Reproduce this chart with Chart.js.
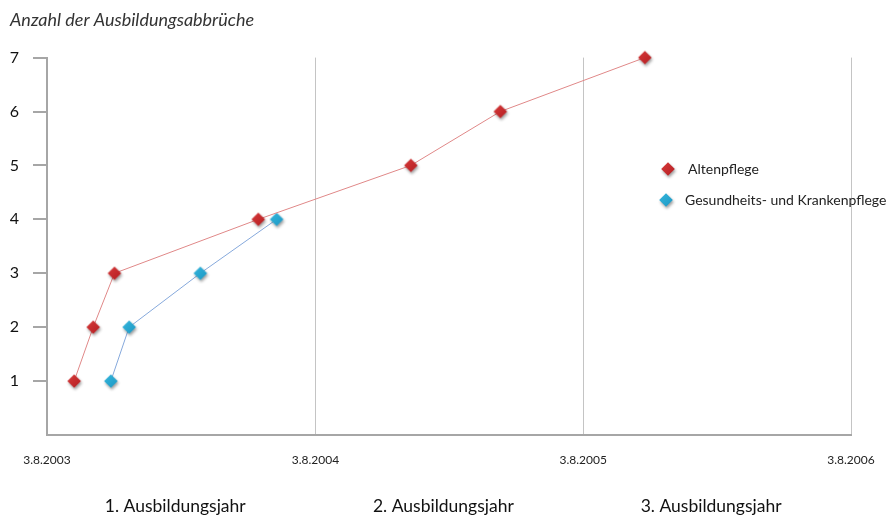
<!DOCTYPE html>
<html lang="de">
<head>
<meta charset="utf-8">
<title>Anzahl der Ausbildungsabbrüche</title>
<script src="https://cdn.jsdelivr.net/npm/chart.js@4/dist/chart.umd.min.js"></script>
<style>
  html, body { margin: 0; padding: 0; background: #ffffff; }
  #wrap { width: 895px; height: 515px; position: relative; }
</style>
</head>
<body>
<div id="wrap"><canvas id="chart"></canvas></div>
<script>
// Ausbildungsabbrüche (kumuliert) nach Datum
const chartTitle = 'Anzahl der Ausbildungsabbrüche';
const seriesNames = ['Altenpflege', 'Gesundheits- und Krankenpflege'];

const altenDates  = ['2003-09-09', '2003-10-05', '2003-11-03', '2004-05-17', '2004-12-11', '2005-04-12', '2005-10-26'];
const altenValues = [1, 2, 3, 4, 5, 6, 7];

const krankenDates  = ['2003-10-29', '2003-11-23', '2004-02-28', '2004-06-11'];
const krankenValues = [1, 2, 3, 4];

const xTickDates = ['2003-08-03', '2004-08-03', '2005-08-03', '2006-08-03'];
const yearLabels = ['1. Ausbildungsjahr', '2. Ausbildungsjahr', '3. Ausbildungsjahr'];
const yTicks = [1, 2, 3, 4, 5, 6, 7];

const FONT = 'Lato, "Open Sans", "DejaVu Sans", sans-serif';

// Datum -> Tagesnummer (UTC)
function dayNum(s) {
  const [y, m, d] = s.split('-').map(Number);
  return Date.UTC(y, m - 1, d) / 86400000;
}
function fmtDay(n) {
  const d = new Date(n * 86400000);
  return d.getUTCDate() + '.' + (d.getUTCMonth() + 1) + '.' + d.getUTCFullYear();
}

const xTickVals = xTickDates.map(dayNum);
const xMin = xTickVals[0];
const xMax = xTickVals[xTickVals.length - 1];
const yearMids = yearLabels.map((_, i) => (xTickVals[i] + xTickVals[i + 1]) / 2);

// Rautenmarker mit weichem Schatten
function diamond(color, dark) {
  const c = document.createElement('canvas');
  const s = 26;
  c.width = s; c.height = s;
  const g = c.getContext('2d');
  const cx = s / 2, cy = s / 2, r = 6.8;
  g.shadowColor = 'rgba(0,0,0,0.38)';
  g.shadowBlur = 3;
  g.shadowOffsetX = 1;
  g.shadowOffsetY = 2;
  const grad = g.createLinearGradient(cx - r, cy - r, cx + r, cy + r);
  grad.addColorStop(0, color);
  grad.addColorStop(1, dark);
  g.fillStyle = grad;
  g.beginPath();
  g.moveTo(cx, cy - r);
  g.lineTo(cx + r, cy);
  g.lineTo(cx, cy + r);
  g.lineTo(cx - r, cy);
  g.closePath();
  g.fill();
  return c;
}
const redMark = diamond('#d63a3a', '#b51e22');
const blueMark = diamond('#35b6dc', '#1c98c4');

const toPoints = (dates, vals) => dates.map((d, i) => ({ x: dayNum(d), y: vals[i] }));

// Legende innerhalb der Zeichenfläche
const innerLegend = {
  id: 'innerLegend',
  afterDraw(chart) {
    const ctx = chart.ctx;
    const items = [
      { mark: redMark, mx: 668, tx: 688, y: 169 },
      { mark: blueMark, mx: 666, tx: 685, y: 200 }
    ];
    ctx.save();
    ctx.font = '14px ' + FONT;
    ctx.fillStyle = '#222';
    ctx.textBaseline = 'middle';
    chart.data.datasets.forEach((ds, i) => {
      const it = items[i];
      ctx.drawImage(it.mark, it.mx - it.mark.width / 2, it.y - it.mark.height / 2);
      ctx.fillText(ds.label, it.tx, it.y);
    });
    ctx.restore();
  }
};

// horizontale Achsen ohne seitlichen Überstand, feste Höhe
const fixX = h => axis => {
  axis.paddingLeft = 0;
  axis.paddingRight = 0;
  axis.height = h;
};

new Chart(document.getElementById('chart'), {
  type: 'line',
  data: {
    datasets: [
      {
        label: seriesNames[0],
        data: toPoints(altenDates, altenValues),
        borderColor: '#e08888',
        borderWidth: 1,
        pointStyle: redMark,
        pointRadius: 7,
        pointHoverRadius: 7,
        tension: 0,
        clip: false,
        xAxisID: 'x'
      },
      {
        label: seriesNames[1],
        data: toPoints(krankenDates, krankenValues),
        borderColor: '#86a9dc',
        borderWidth: 1,
        pointStyle: blueMark,
        pointRadius: 7,
        pointHoverRadius: 7,
        tension: 0,
        clip: false,
        xAxisID: 'x'
      }
    ]
  },
  options: {
    responsive: true,
    maintainAspectRatio: false,
    animation: false,
    layout: { padding: { left: 10, right: 44, top: 9, bottom: 0 } },
    plugins: {
      legend: { display: false },
      tooltip: { enabled: false },
      title: {
        display: true,
        text: chartTitle,
        align: 'start',
        color: '#333',
        font: { family: FONT, size: 18, style: 'italic', weight: 'normal' },
        padding: { top: 0, bottom: 27 }
      }
    },
    scales: {
      x: {
        type: 'linear',
        position: 'bottom',
        min: xMin,
        max: xMax,
        afterBuildTicks: axis => { axis.ticks = xTickVals.map(v => ({ value: v })); },
        afterFit: fixX(40),
        ticks: {
          autoSkip: false,
          maxRotation: 0,
          padding: 18,
          color: '#222',
          font: { family: FONT, size: 12 },
          callback: v => fmtDay(v)
        },
        grid: { color: '#c4c4c4', lineWidth: 1, drawTicks: false },
        border: { color: '#a6a6a6', width: 2 }
      },
      x2: {
        type: 'linear',
        position: 'bottom',
        min: xMin,
        max: xMax,
        afterBuildTicks: axis => { axis.ticks = yearMids.map(v => ({ value: v })); },
        afterFit: fixX(40),
        ticks: {
          autoSkip: false,
          maxRotation: 0,
          padding: 21,
          labelOffset: -6,
          color: '#111',
          font: { family: FONT, size: 17.5 },
          callback: (v, i) => yearLabels[i]
        },
        grid: { display: false, drawTicks: false },
        border: { display: false }
      },
      y: {
        min: 0,
        max: 7,
        afterBuildTicks: axis => { axis.ticks = yTicks.map(v => ({ value: v })); },
        afterFit: axis => { axis.width = 37; },
        ticks: {
          padding: 14,
          color: '#111',
          font: { family: FONT, size: 16 }
        },
        grid: { drawOnChartArea: false, drawTicks: true, tickLength: 14, color: '#a6a6a6', lineWidth: 2 },
        border: { color: '#a6a6a6', width: 2 }
      }
    }
  },
  plugins: [innerLegend]
});
</script>
</body>
</html>
